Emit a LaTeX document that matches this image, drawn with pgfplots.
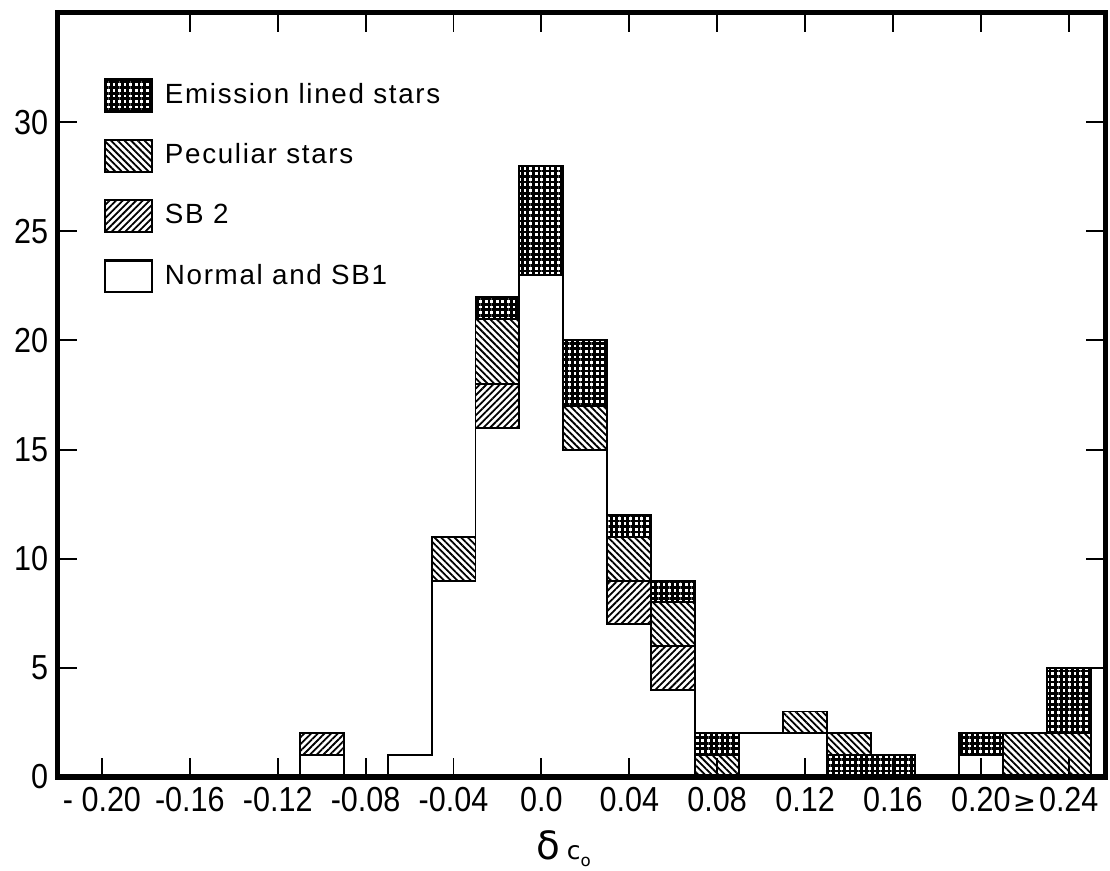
\documentclass[border=0pt]{standalone}
\usepackage{fontspec}
\setmainfont{Liberation Sans}
\newfontfamily\dejavu{DejaVu Sans}
\newfontfamily\tickfont[FakeStretch=0.88]{Liberation Sans}
\newfontfamily\legfont[LetterSpace=6]{Liberation Sans}
\usepackage{pgfplots}
\usepackage{pgfplotstable}
\pgfplotsset{compat=1.18}
\usetikzlibrary{patterns.meta}

\tikzset{
  emis/.style={pattern={Hatch[angle=0,distance=2pt,line width=1.0pt]}},
  pec/.style={pattern={Lines[angle=-45,distance=1.7pt,line width=0.65pt]}},
  sbtwo/.style={pattern={Lines[angle=45,distance=1.7pt,line width=0.65pt]}},
}

% bin left edges (width 0.02); N normal+SB1, El emission drawn low, S SB2, P peculiar, E emission
\pgfplotstableread{
x     N   El  S   P   E
-0.11 1   0   1   0   0
-0.09 0   0   0   0   0
-0.07 1   0   0   0   0
-0.05 9   0   0   2   0
-0.03 16  0   2   3   1
-0.01 23  0   0   0   5
0.01  15  0   0   2   3
0.03  7   0   2   2   1
0.05  4   0   2   2   1
0.07  0   0   0   1   1
0.09  2   0   0   0   0
0.11  2   0   0   1   0
0.13  0   1   0   1   0
0.15  0   1   0   0   0
0.17  0   0   0   0   0
0.19  1   0   0   0   1
0.21  0   0   0   2   0
0.23  0   0   0   2   3
0.25  5   0   0   0   0
0.27  5   0   0   0   0
}\hist

\begin{document}
\begin{tikzpicture}
\begin{axis}[
  scale only axis, width=376.92pt, height=275.04pt,
  xmin=-0.22, xmax=0.2565, ymin=0, ymax=35,
  stack plots=y,
  axis on top,
  axis line style={line width=1.8pt},
  tick style={line width=0.7pt, black},
  tick align=inside,
  major tick length=7pt,
  xtick={-0.16,-0.12,-0.08,-0.04,0,0.04,0.08,0.12,0.16,0.20,0.24},
  xticklabels={-0.16,-0.12,-0.08,-0.04,0.0,0.04,0.08,0.12,0.16,0.20,{\makebox[0pt][r]{{\dejavu\fontsize{10}{12}\selectfont ≥}\kern1pt}0.24}},
  extra x ticks={-0.20},
  extra x tick labels={- 0.20},
  extra x tick style={xtick pos=left},
  ytick={0,5,10,15,20,25,30},
  yticklabels={0,5,10,15,20,25,30},
  /pgf/number format/assume math mode=true,
  tick label style={font=\tickfont\fontsize{12.5}{14}\selectfont},
  xlabel={{\dejavu\fontsize{14}{14}\selectfont δ\,{\fontsize{9}{9}\selectfont c\raisebox{-2.5pt}{\fontsize{6}{6}\selectfont o}}}},
  xlabel style={at={(axis description cs:0.483,0)}, anchor=north, yshift=-19pt, inner sep=0pt},
  legend image code/.code={\draw[#1, line width=0.8pt] (0pt,-5.75pt) rectangle (17pt,5.75pt);},
  reverse legend,
  legend cell align=left,
  legend style={at={(axis description cs:0.043,0.915)}, anchor=north west,
    draw=none, fill=none, inner sep=0pt, row sep=9.4pt, column sep=4.3pt,
    font=\legfont\fontsize{10}{12}\selectfont, nodes={inner sep=0pt}},
]
\addplot[const plot, draw=black, line width=0.7pt, fill=white] table[x=x,y=N]{\hist} \closedcycle;
\addlegendentry{Normal and SB1}
\addplot[const plot, draw=black, line width=0.7pt, emis, forget plot] table[x=x,y=El]{\hist} \closedcycle;
\addplot[const plot, draw=black, line width=0.7pt, sbtwo] table[x=x,y=S]{\hist} \closedcycle;
\addlegendentry{SB 2}
\addplot[const plot, draw=black, line width=0.7pt, pec] table[x=x,y=P]{\hist} \closedcycle;
\addlegendentry{Peculiar stars}
\addplot[const plot, draw=black, line width=0.7pt, emis] table[x=x,y=E]{\hist} \closedcycle;
\addlegendentry{Emission lined stars}
\end{axis}
\path (-20.88pt,-33.84pt) rectangle (378.72pt,279.72pt);
\end{tikzpicture}
\end{document}
